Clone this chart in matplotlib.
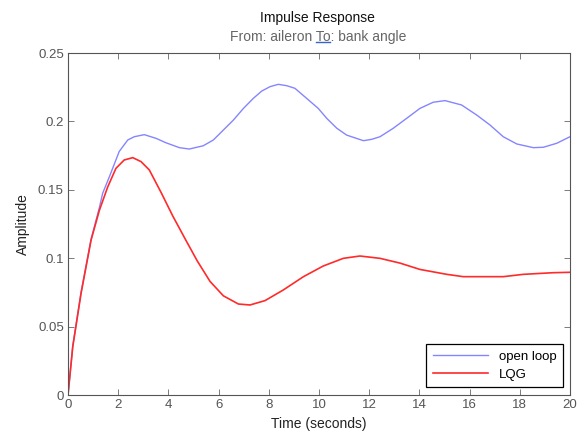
import matplotlib
matplotlib.use("Agg")
import matplotlib.pyplot as plt
import numpy as np

plt.rcParams["font.family"] = ["Liberation Sans", "DejaVu Sans"]

# open loop impulse response
t_open = [0.0, 0.19, 0.52, 0.92, 1.25, 1.38, 1.65, 2.04, 2.38, 2.64, 3.04, 3.51,
          3.9, 4.44, 4.83, 5.39, 5.79, 6.19, 6.59, 6.99, 7.38, 7.72, 8.05, 8.38,
          8.71, 9.04, 9.51, 9.97, 10.31, 10.71, 11.1, 11.77, 12.1, 12.43, 12.96,
          13.49, 14.02, 14.55, 15.02, 15.68, 16.28, 16.81, 17.34, 17.88, 18.54,
          18.94, 19.47, 20.0]
y_open = [0.0, 0.036, 0.075, 0.114, 0.137, 0.1474, 0.1596, 0.178, 0.1864, 0.1888,
          0.1903, 0.1876, 0.1844, 0.1808, 0.1798, 0.1822, 0.1864, 0.1937, 0.201,
          0.2095, 0.2168, 0.2222, 0.2254, 0.2271, 0.2261, 0.2242, 0.2168, 0.2095,
          0.2022, 0.195, 0.19, 0.1859, 0.1869, 0.1888, 0.195, 0.2022, 0.2095,
          0.214, 0.2152, 0.212, 0.2047, 0.1974, 0.1888, 0.1835, 0.1808, 0.1811,
          0.184, 0.1888]

# LQG closed loop impulse response
t_lqg = [0.0, 0.19, 0.52, 0.92, 1.25, 1.58, 1.91, 2.24, 2.58, 2.91, 3.24, 3.71,
         4.17, 4.7, 5.15, 5.66, 6.19, 6.79, 7.25, 7.85, 8.58, 9.38, 10.17, 10.97,
         11.63, 12.43, 13.23, 14.02, 15.09, 15.75, 17.34, 18.14, 19.33, 20.0]
y_lqg = [0.0, 0.0353, 0.0743, 0.1133, 0.135, 0.152, 0.1657, 0.1718, 0.1735,
         0.1706, 0.1645, 0.148, 0.131, 0.113, 0.098, 0.083, 0.0725, 0.0665,
         0.0658, 0.069, 0.0768, 0.0865, 0.0943, 0.0999, 0.1016, 0.0999, 0.0964,
         0.0918, 0.0882, 0.0865, 0.0865, 0.0882, 0.0894, 0.0897]

x_ticks = np.arange(0, 21, 2)
y_ticks = [0, 0.05, 0.1, 0.15, 0.2, 0.25]
y_tick_labels = ["0", "0.05", "0.1", "0.15", "0.2", "0.25"]

fig = plt.figure(figsize=(5.77, 4.36), dpi=100)
ax = fig.add_axes([68 / 577, 1 - 395 / 436, 502 / 577, 342 / 436])

ax.plot(t_open, y_open, color="#8585ff", lw=1.0, label="open loop")
ax.plot(t_lqg, y_lqg, color="#ff2a2a", lw=1.2, label="LQG")

ax.set_xlim(0, 20)
ax.set_ylim(0, 0.25)
ax.set_xticks(x_ticks)
ax.set_yticks(y_ticks)
ax.set_yticklabels(y_tick_labels)
ax.tick_params(direction="in", top=True, right=True, length=4, width=0.6,
               colors="#666666", labelsize=9.5, labelcolor="#555555", pad=3)
for spine in ax.spines.values():
    spine.set_color("#555555")
    spine.set_linewidth(0.8)

ax.set_xlabel("Time (seconds)", fontsize=10, color="#222222", labelpad=4)
ax.set_ylabel("Amplitude", fontsize=10, color="#222222", labelpad=6)

leg = ax.legend(loc="lower right", bbox_to_anchor=(0.986, 0.023), fontsize=9.5,
                fancybox=False, framealpha=1, edgecolor="black", borderaxespad=0,
                handlelength=4.2, borderpad=0.5, labelspacing=0.4)
leg.get_frame().set_linewidth(0.9)

# two-line title
fig.text(0.551, 1 - 18 / 436, "Impulse Response", ha="center", va="center",
         fontsize=10, color="#111111")
sub = fig.text(0.551, 1 - 37 / 436, "From: aileron To: bank angle", ha="center",
               va="center", fontsize=10, color="#666666")

# blue underline under "To"
fig.canvas.draw()
renderer = fig.canvas.get_renderer()
bb = sub.get_window_extent(renderer)
probe = fig.text(0, 0, "From: aileron To", fontsize=10)
w_pre = probe.get_window_extent(renderer).width
probe.set_text("To")
w_to = probe.get_window_extent(renderer).width
probe.remove()
x1 = bb.x0 + w_pre
x0 = x1 - w_to
yl = bb.y0 + 2
fig.add_artist(plt.Line2D([x0 / fig.bbox.width, x1 / fig.bbox.width],
                          [yl / fig.bbox.height, yl / fig.bbox.height],
                          color="#3366cc", lw=1.0, transform=fig.transFigure))

fig.savefig("out.png", dpi=100)
